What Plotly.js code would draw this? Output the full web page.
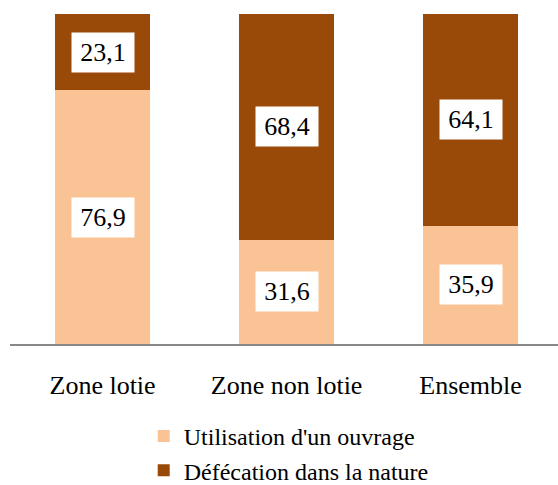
<!DOCTYPE html>
<html>
<head>
<meta charset="utf-8">
<script src="https://cdn.plot.ly/plotly-3.0.1.min.js"></script>
<style>html,body{margin:0;padding:0;background:#fff;}#chart{width:558px;height:485px;}</style>
</head>
<body>
<div id="chart"></div>
<script>
var categories = ["Zone lotie", "Zone non lotie", "Ensemble"];
var ouvrage = [76.9, 31.6, 35.9];
var nature = [23.1, 68.4, 64.1];
var seriesNames = ["Utilisation d'un ouvrage", "Défécation dans la nature"];

var lightColor = "#F9C396";
var darkColor = "#9A4A08";
var font = "Liberation Serif, Tinos, DejaVu Serif, serif";

function fmt(v) { return v.toFixed(1).replace(".", ","); }

var traces = [
  { type: "bar", x: categories, y: ouvrage, name: seriesNames[0], marker: { color: lightColor }, width: 0.516, hoverinfo: "none" },
  { type: "bar", x: categories, y: nature, name: seriesNames[1], marker: { color: darkColor }, width: 0.516, hoverinfo: "none" }
];

var annotations = [];
categories.forEach(function (c, i) {
  annotations.push({ x: c, y: ouvrage[i] / 2, xref: "x", yref: "y", text: fmt(ouvrage[i]), showarrow: false,
    bgcolor: "#fff", width: 62, height: 39, borderpad: 0, font: { family: font, size: 26, color: "#000" } });
  annotations.push({ x: c, y: ouvrage[i] + nature[i] / 2, xref: "x", yref: "y", text: fmt(nature[i]), showarrow: false,
    bgcolor: "#fff", width: 62, height: 39, borderpad: 0, font: { family: font, size: 26, color: "#000" } });
});

var layout = {
  width: 558, height: 485,
  margin: { l: 10, r: 0, t: 14, b: 141, autoexpand: false },
  barmode: "stack",
  paper_bgcolor: "#fff", plot_bgcolor: "#fff",
  font: { family: font, size: 26, color: "#000" },
  showlegend: true,
  legend: { orientation: "v", x: 0.244, xanchor: "left", y: -0.212, yanchor: "top", traceorder: "normal",
    font: { family: font, size: 24, color: "#000" }, bgcolor: "rgba(0,0,0,0)" },
  xaxis: { type: "category", range: [-0.503, 2.475], showline: true, linecolor: "#888", linewidth: 2,
    ticks: "outside", ticklen: 17, tickcolor: "rgba(0,0,0,0)", showgrid: false, zeroline: false,
    tickfont: { family: font, size: 26, color: "#000" }, fixedrange: true },
  yaxis: { range: [0, 100], visible: false, showgrid: false, zeroline: false, fixedrange: true },
  annotations: annotations
};

Plotly.newPlot("chart", traces, layout, { displayModeBar: false, staticPlot: true });
</script>
</body>
</html>
